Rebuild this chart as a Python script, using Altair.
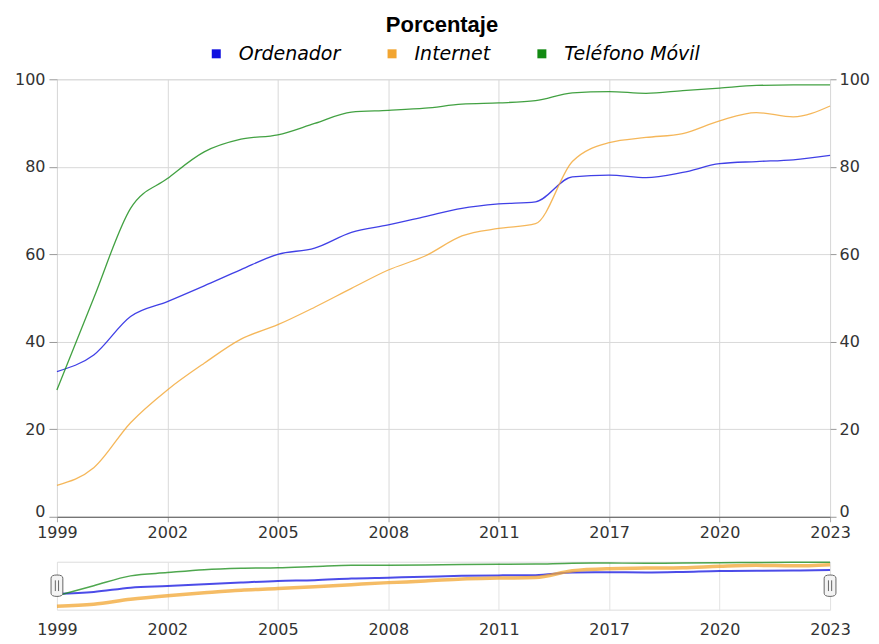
import altair as alt
import pandas as pd

years = ["1999", "2000", "2001", "2002", "2003", "2004", "2005", "2006", "2007",
         "2008", "2009", "2010", "2011", "2013", "2015", "2017", "2018", "2019",
         "2020", "2021", "2022", "2023"]
label_years = ["1999", "2002", "2005", "2008", "2011", "2017", "2020", "2023"]
series_names = ["Ordenador", "Internet", "Teléfono Móvil"]
ordenador = [33.2, 37.0, 45.8, 49.2, 52.8, 56.5, 60.0, 61.4, 65.0, 66.7, 68.6,
             70.5, 71.5, 72.0, 77.7, 78.1, 77.5, 78.7, 80.7, 81.2, 81.6, 82.6]
internet = [7.2, 11.2, 21.5, 29.0, 35.1, 40.6, 43.9, 47.9, 52.2, 56.4, 59.6,
            64.2, 65.9, 67.0, 81.2, 85.5, 86.7, 87.6, 90.5, 92.4, 91.4, 93.9]
movil = [29.0, 50.0, 70.5, 77.3, 83.4, 86.3, 87.3, 89.9, 92.5, 92.9, 93.4,
         94.3, 94.6, 95.1, 96.9, 97.2, 96.8, 97.4, 98.0, 98.6, 98.7, 98.7]
colors = ["#1010e0", "#f2a531", "#138a13"]
nav_widths = [2.0, 3.5, 1.5]
y_ticks = [0, 20, 40, 60, 80, 100]

rows = []
for name, vals in zip(series_names, [ordenador, internet, movil]):
    for yr, v in zip(years, vals):
        rows.append({"Año": yr, "Serie": name, "Valor": v})
df = pd.DataFrame(rows)
handles = pd.DataFrame({"Año": [years[0], years[-1]]})

font = "DejaVu Sans"
W = 774

xscale = alt.Scale(type="point", padding=0, domain=years)

x_main = alt.X("Año:O", scale=xscale,
               axis=alt.Axis(values=label_years, labelAngle=0, title=None, grid=True,
                             gridColor="#d9d9d9", domainColor="#555555", tickColor="#aaaaaa",
                             tickSize=5, labelFontSize=16, labelColor="#333333",
                             labelFont=font, labelPadding=3))

color = alt.Color("Serie:N", scale=alt.Scale(domain=series_names, range=colors),
                  legend=alt.Legend(orient="none", legendX=150, legendY=-35,
                                    direction="horizontal", columns=3, title=None,
                                    symbolType="square", symbolSize=9, symbolStrokeWidth=6,
                                    symbolOpacity=1,
                                    labelFont=font, labelFontStyle="italic", labelFontSize=19,
                                    labelColor="#000000", columnPadding=38, labelOffset=13))

yscale = alt.Scale(domain=[0, 100], nice=False)
zero_shift = {"condition": {"test": "datum.value == 0", "value": -5}, "value": 0}

lines = alt.Chart(df).mark_line(interpolate="monotone", strokeWidth=1.3, strokeOpacity=0.8).encode(
    x=x_main,
    y=alt.Y("Valor:Q", scale=yscale,
            axis=alt.Axis(values=y_ticks, title=None, grid=True, gridColor="#d9d9d9",
                          domain=False, tickColor="#999999", tickSize=8, labelPadding=4,
                          labelOffset=zero_shift,
                          labelFontSize=16, labelFont=font, labelColor="#333333")),
    color=color,
)

right = alt.Chart(df).mark_line(opacity=0).encode(
    x=x_main,
    y=alt.Y("Valor:Q", scale=yscale,
            axis=alt.Axis(values=y_ticks, title=None, grid=False, orient="right",
                          domain=False, tickColor="#999999", tickSize=6, labelPadding=3,
                          labelOffset=zero_shift,
                          labelFontSize=16, labelFont=font, labelColor="#333333")),
    detail="Serie:N",
)

main = alt.layer(lines, right).resolve_scale(y="independent").properties(width=W, height=438)

x_nav = alt.X("Año:O", scale=xscale,
              axis=alt.Axis(values=label_years, labelAngle=0, title=None, grid=True,
                            gridColor="#e3e3e3", domain=False, ticks=False,
                            labelFontSize=16, labelColor="#333333", labelFont=font,
                            labelPadding=12))
y_nav = alt.Y("Valor:Q", scale=alt.Scale(domain=[0, 100], nice=False), axis=None)

nav_layers = []
for name, col, sw in zip(series_names, colors, nav_widths):
    nav_layers.append(
        alt.Chart(df).transform_filter(alt.datum.Serie == name)
        .mark_line(interpolate="monotone", strokeOpacity=0.75, strokeWidth=sw, color=col)
        .encode(x=x_nav, y=y_nav)
    )

handle_path = ("M-0.55,-0.7 Q-0.55,-1 0,-1 Q0.55,-1 0.55,-0.7 L0.55,0.7 Q0.55,1 0,1 "
               "Q-0.55,1 -0.55,0.7 Z M-0.15,-0.5 L-0.15,0.5 M0.15,-0.5 L0.15,0.5")
nav_handles = alt.Chart(handles).mark_point(shape=handle_path, size=460, filled=True,
                                            fill="#f4f4f4", stroke="#666666", strokeWidth=1,
                                            opacity=1).encode(
    x=x_nav,
    y=alt.value(24),
)

nav = alt.layer(*nav_layers, nav_handles).properties(width=W, height=48)

chart = alt.vconcat(main, nav, spacing=15).resolve_legend(color="independent").properties(
    title=alt.TitleParams("Porcentaje", font="Liberation Sans", fontSize=22, fontWeight="bold",
                          anchor="middle", color="#000000", offset=7),
    padding={"left": 5, "top": 5, "right": 0, "bottom": 0},
).configure_view(stroke="#cccccc").configure(background="white")

chart.save("out.html", embed_options={"renderer": "svg", "actions": False})
